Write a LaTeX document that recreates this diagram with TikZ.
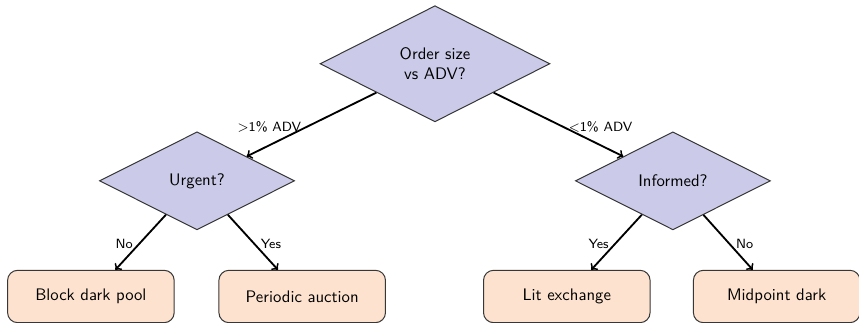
\documentclass[tikz,border=0pt]{standalone}
\usepackage{amsmath}
\usepackage{xcolor}
\usepackage{tikz}
\usetikzlibrary{positioning, shapes.geometric}

\definecolor{qfill}{RGB}{203,203,233}
\definecolor{leaffill}{RGB}{253,227,207}
\definecolor{edgegray}{RGB}{55,55,55}

\begin{document}
\begin{tikzpicture}[
        every node/.style={font=\sffamily},
        question/.style={diamond, aspect=2, draw=edgegray, semithick, fill=qfill, align=center, inner sep=1pt, minimum width=4.1cm, minimum height=2.06cm},
        leaf/.style={draw=edgegray, semithick, fill=leaffill, rounded corners=6pt, minimum width=3.5cm, minimum height=1.1cm, align=center},
        arrow/.style={->, line width=1.1pt},
        branch/.style={font=\sffamily\footnotesize, pos=0.53}
    ]

    \useasboundingbox (-9.14,-5.44) rectangle (8.91,1.34);

    % Decision nodes
    \node[question, minimum width=4.83cm, minimum height=2.44cm] (size) at (0,0) {Order size\\vs ADV?};
    \node[question] (urgent) at (-5,-2.46) {Urgent?};
    \node[question] (informed) at (5,-2.46) {Informed?};

    % Venues
    \node[leaf] (block) at (-7.23,-4.89) {Block dark pool};
    \node[leaf] (auction) at (-2.79,-4.89) {Periodic auction};
    \node[leaf] (lit) at (2.77,-4.89) {Lit exchange};
    \node[leaf] (mid) at (7.18,-4.89) {Midpoint dark};

    % Branches
    \draw[arrow] (size) -- node[branch, left] {$>$1\% ADV} (urgent);
    \draw[arrow] (size) -- node[branch, right] {$<$1\% ADV} (informed);
    \draw[arrow] (urgent) -- node[branch, left] {No} (block);
    \draw[arrow] (urgent) -- node[branch, right] {Yes} (auction);
    \draw[arrow] (informed) -- node[branch, left] {Yes} (lit);
    \draw[arrow] (informed) -- node[branch, right] {No} (mid);

\end{tikzpicture}
\end{document}
